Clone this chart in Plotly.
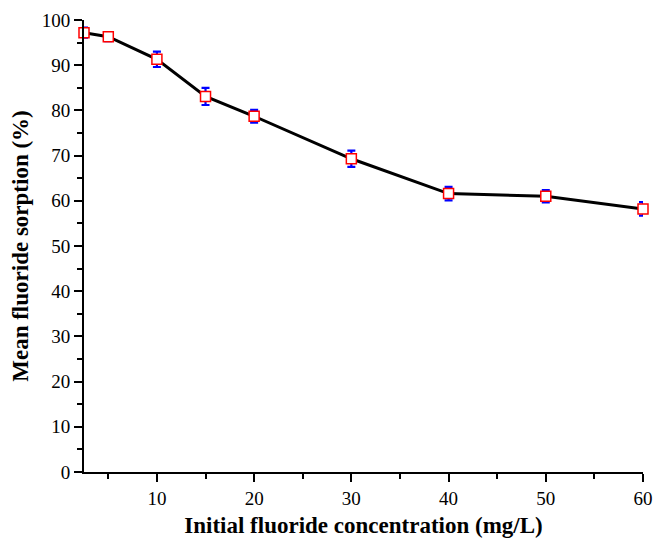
import plotly.graph_objects as go

concentration = [2.5, 5, 10, 15, 20, 30, 40, 50, 60]
sorption = [97.2, 96.3, 91.3, 83.1, 78.7, 69.3, 61.6, 61.0, 58.2]
sorption_err = [1.1, 1.0, 1.7, 1.9, 1.4, 1.8, 1.5, 1.35, 1.5]

x_title = "Initial fluoride concentration (mg/L)"
y_title = "Mean fluoride sorption (%)"

fig = go.Figure()
fig.add_trace(go.Scatter(
    x=concentration, y=sorption,
    mode="lines+markers",
    line=dict(color="black", width=3),
    marker=dict(symbol="square", size=10, color="white",
                line=dict(color="#ff0000", width=1.5)),
    error_y=dict(type="data", array=sorption_err, visible=True,
                 color="#0000ff", thickness=2.2, width=4),
    cliponaxis=False,
    showlegend=False,
))

font_family = "Liberation Serif"
axis_common = dict(
    showline=True, linecolor="black", linewidth=2,
    ticks="outside", ticklen=8, tickwidth=2, tickcolor="black",
    showgrid=False, zeroline=False, automargin=False,
    tickfont=dict(family=font_family, size=19, color="black"),
    mirror=False,
)

fig.update_xaxes(
    range=[2.5, 60], tick0=0, dtick=10,
    minor=dict(ticks="outside", ticklen=5, tickwidth=2, tickcolor="black", dtick=5, tick0=0),
    title=dict(text="<b>" + x_title + "</b>",
               font=dict(family=font_family, size=23, color="black"), standoff=14),
    **axis_common,
)
fig.update_yaxes(
    range=[0, 100], tick0=0, dtick=10,
    minor=dict(ticks="outside", ticklen=5, tickwidth=2, tickcolor="black", dtick=5, tick0=0),
    title=dict(text="<b>" + y_title + "</b>",
               font=dict(family=font_family, size=23, color="black"), standoff=7),
    **axis_common,
)

fig.update_layout(
    width=654, height=538,
    margin=dict(l=84, r=11, t=20, b=66),
    plot_bgcolor="white", paper_bgcolor="white",
    font=dict(family=font_family),
)

fig.write_html(
    "out.html",
    config={"displayModeBar": False},
    post_script="document.body.style.margin='0';document.body.style.overflow='hidden';",
)
